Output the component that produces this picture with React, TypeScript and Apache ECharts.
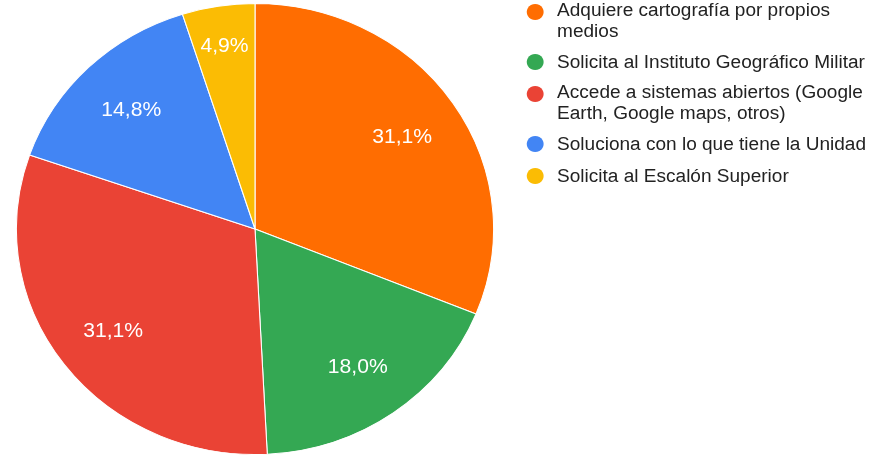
import React, { useEffect, useRef } from 'react';
import * as echarts from 'echarts';

const categories = [
  'Adquiere cartografía por propios\nmedios',
  'Solicita al Instituto Geográfico Militar',
  'Accede a sistemas abiertos (Google\nEarth, Google maps, otros)',
  'Soluciona con lo que tiene la Unidad',
  'Solicita al Escalón Superior',
];
const values = [19, 11, 19, 9, 3];
const colors = ['#ff6d01', '#34a853', '#ea4335', '#4285f4', '#fbbc04'];

const FONT = '"Liberation Sans", Arial, sans-serif';

export default function App() {
  const ref = useRef<HTMLDivElement>(null);
  useEffect(() => {
    const chart = echarts.init(ref.current!, null, { renderer: 'svg' });
    const total = values.reduce((a, b) => a + b, 0);
    const pct = (v: number) => ((v / total) * 100).toFixed(1).replace('.', ',') + '%';
    const cx = 241;
    const cy = 229;
    const R = 225.5;

    const labelRing = (frac: number, cond: (share: number) => boolean) => ({
      type: 'pie',
      center: [cx, cy],
      radius: [0, 2 * frac * R],
      startAngle: 90,
      silent: true,
      avoidLabelOverlap: false,
      itemStyle: { color: 'transparent', borderWidth: 0 },
      label: {
        show: true,
        position: 'inside',
        color: '#ffffff',
        fontSize: 20,
        fontFamily: FONT,
        formatter: (p: any) => pct(p.value),
      },
      labelLine: { show: false },
      emphasis: { disabled: true },
      data: categories.map((name, i) => ({
        name,
        value: values[i],
        label: { show: cond(values[i] / total) },
      })),
    });

    const legendChildren: any[] = [];
    let top = 3;
    categories.forEach((name, i) => {
      const lines = name.split('\n');
      legendChildren.push({
        type: 'circle',
        shape: { cx: 505.8, cy: top + 9, r: 8 },
        style: { fill: colors[i] },
      });
      lines.forEach((line, j) => {
        legendChildren.push({
          type: 'text',
          x: 526.5,
          y: top + (lines.length > 1 ? -2 + j * 20.5 : 0),
          style: {
            text: line,
            fill: '#222222',
            fontSize: 18,
            fontFamily: FONT,
            verticalAlign: 'top',
            align: 'left',
          },
        });
      });
      top += 32 + (lines.length - 1) * 18;
    });

    chart.setOption({
      animation: false,
      series: [
        {
          type: 'pie',
          center: [cx, cy],
          radius: [0, R],
          startAngle: 90,
          silent: true,
          itemStyle: { borderColor: '#ffffff', borderWidth: 1 },
          label: { show: false },
          labelLine: { show: false },
          emphasis: { disabled: true },
          data: categories.map((name, i) => ({
            name,
            value: values[i],
            itemStyle: { color: colors[i] },
          })),
        },
        labelRing(0.73, (s) => s >= 0.1),
        labelRing(0.816, (s) => s < 0.1),
      ],
      graphic: [{ type: 'group', children: legendChildren }],
    });
    return () => chart.dispose();
  }, []);
  return (
    <div
      ref={ref}
      style={{
        position: 'fixed',
        left: 0,
        top: 0,
        width: 826,
        height: 456,
        transform: 'scaleX(1.0581)',
        transformOrigin: '0 0',
      }}
    />
  );
}
